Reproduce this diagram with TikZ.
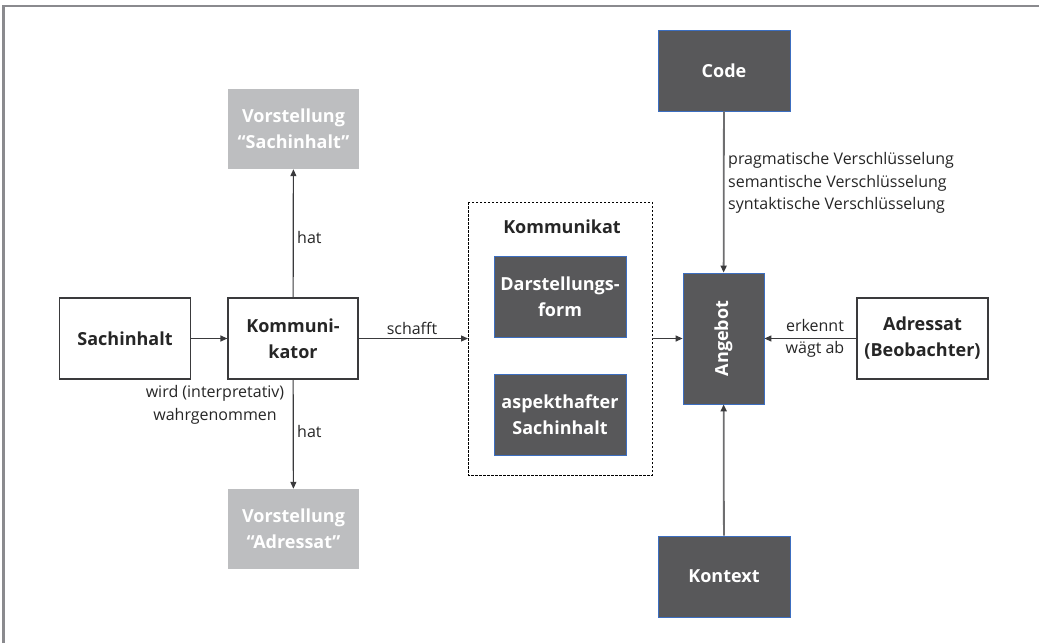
\documentclass[tikz,border=0pt]{standalone}
\usepackage{fontspec}
\setmainfont{Open Sans}
\usetikzlibrary{arrows.meta,positioning}
\definecolor{darkbox}{HTML}{58585A}
\definecolor{bluerim}{HTML}{3C6EC0}
\definecolor{lightbox}{HTML}{BDBEC0}
\definecolor{linec}{HTML}{3A3A3C}
\definecolor{gline}{HTML}{6E6E70}
\definecolor{framec}{HTML}{8A8A8E}
\tikzset{
  x=1pt,y=-1pt,
  bfont/.style={font=\fontsize{18}{26}\selectfont\bfseries},
  whitebox/.style={draw=linec,line width=1.2pt,fill=white,minimum width=131pt,minimum height=81pt,inner sep=0pt,align=center,bfont,text=black!85},
  darkbx/.style={draw=bluerim,line width=0.8pt,fill=darkbox,minimum width=132pt,minimum height=81pt,inner sep=0pt,align=center,bfont,text=white},
  lightbx/.style={fill=lightbox,minimum width=131pt,minimum height=80pt,inner sep=0pt,align=center,bfont,text=white},
  conn/.style={draw=linec,line width=1.2pt,-{Triangle[length=7pt,width=6pt]}},
  gconn/.style={draw=gline,line width=1.8pt,-{Triangle[length=7pt,width=6pt,color=linec]}},
  lbl/.style={font=\fontsize{16}{22.5}\selectfont,text=black!85,inner sep=0pt,align=center},
  dashbox/.style={draw=black,line width=0.9pt,dash pattern=on 2.5pt off 1.5pt},
  framel/.style={draw=framec,line width=2.2pt}
}
\begin{document}
\begin{tikzpicture}
\useasboundingbox (0,0) rectangle (1039,643);
\draw[framel] (3.5,643) -- (3.5,6) -- (1039,6);

\node[whitebox] (sach) at (125,338.5) {Sachinhalt};
\node[whitebox,minimum width=130pt] (komm) at (293,338.5) {Kommuni-\\kator};
\node[lightbx] (vsach) at (293.5,129) {Vorstellung\\“Sachinhalt”};
\node[lightbx] (vadr) at (293.5,529) {Vorstellung\\“Adressat”};

\draw[dashbox] (468,202) rectangle (652,475);
\coordinate (kin) at (468,338.5);
\coordinate (kout) at (652,338.5);
\node[bfont,text=black!85] (kommt) at (562,227) {Kommunikat};
\node[darkbx] (darst) at (560,297) {Darstellungs-\\form};
\node[darkbx] (aspekt) at (560,414.5) {aspekthafter\\Sachinhalt};

\node[darkbx,minimum width=81pt,minimum height=131pt] (angebot) at (723.5,338.5) {};
\node[rotate=90,bfont,text=white] at (angebot.center) {Angebot};
\node[darkbx] (code) at (724,70.5) {Code};
\node[darkbx] (kontext) at (724,576.5) {Kontext};
\node[whitebox] (adr) at (922.5,338.5) {Adressat\\(Beobachter)};

\draw[conn] (sach) -- (komm);
\draw[conn] (komm) -- (kin);
\draw[conn] (kout) -- (angebot);
\draw[conn] (adr) -- (angebot);
\draw[conn] (komm) -- (vsach);
\draw[conn] (komm) -- (vadr);
\draw[gconn] (code) -- (angebot);
\draw[gconn] (kontext) -- (angebot);

\node[lbl] (schafft) at (412,328) {schafft};
\node[lbl,anchor=west] (hat1) at (297,237) {hat};
\node[lbl,anchor=west] (hat2) at (297,431) {hat};
\node[lbl] (wird) at (215,405) {wird (interpretativ)\\wahrgenommen};
\node[lbl] (erk) at (815,338.5) {erkennt\\wägt ab};
\node[lbl,anchor=west,align=left] (versch) at (728,183) {pragmatische Verschlüsselung\\semantische Verschlüsselung\\syntaktische Verschlüsselung};
\end{tikzpicture}
\end{document}
